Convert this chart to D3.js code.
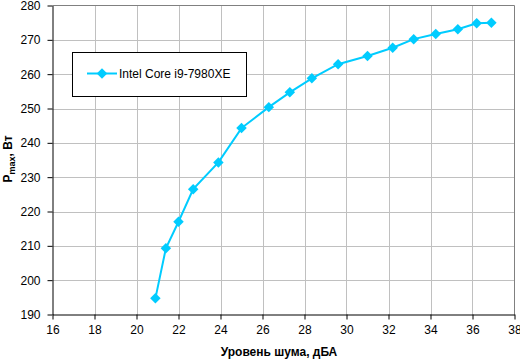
<!DOCTYPE html>
<html>
<head>
<meta charset="utf-8">
<script src="https://cdn.jsdelivr.net/npm/d3@7"></script>
<style>
body { margin: 0; background: #fff; overflow: hidden; }
svg { display: block; }
text { font-family: Arial, "Liberation Sans", sans-serif; }
</style>
</head>
<body>
<svg></svg>
<script>
// chart data
var seriesName = "Intel Core i9-7980XE";
var noise = [20.9, 21.4, 22.0, 22.7, 23.9, 25.0, 26.3, 27.3, 28.35, 29.6, 31.0, 32.2, 33.2, 34.25, 35.3, 36.2, 36.9];
var power = [194.7, 209.3, 217.0, 226.5, 234.3, 244.3, 250.4, 254.7, 258.8, 262.9, 265.3, 267.7, 270.2, 271.7, 273.1, 274.8, 275.0];
var xTicks = [16, 18, 20, 22, 24, 26, 28, 30, 32, 34, 36, 38];
var yTicks = [190, 200, 210, 220, 230, 240, 250, 260, 270, 280];

var svgWidth = 520, svgHeight = 359;
var svg = d3.select('svg')
  .attr('width', svgWidth)
  .attr('height', svgHeight);

var pLeft = 52.5, pRight = 514.5, pTop = 5.5, pBottom = 314.5;
var lineColor = "#00ccff";

var x = d3.scaleLinear().domain([16, 38]).range([pLeft, pRight]);
var y = d3.scaleLinear().domain([190, 280]).range([pBottom, pTop]);

// grid
svg.append("g").selectAll("line")
  .data(xTicks.slice(1, -1))
  .enter().append("line")
  .attr("x1", function (d) { return Math.round(x(d)) + 0.5; })
  .attr("x2", function (d) { return Math.round(x(d)) + 0.5; })
  .attr("y1", pTop).attr("y2", pBottom)
  .attr("stroke", "#c0c0c0").attr("stroke-width", 1);

svg.append("g").selectAll("line")
  .data(yTicks.slice(1, -1))
  .enter().append("line")
  .attr("y1", function (d) { return Math.round(y(d)) + 0.5; })
  .attr("y2", function (d) { return Math.round(y(d)) + 0.5; })
  .attr("x1", pLeft).attr("x2", pRight)
  .attr("stroke", "#c0c0c0").attr("stroke-width", 1);

// frame top/right
svg.append("path")
  .attr("d", "M" + pLeft + "," + pTop + "H" + pRight + "V" + pBottom)
  .attr("fill", "none").attr("stroke", "#808080");

// axes
var xAxis = svg.append("g")
  .attr("transform", "translate(0," + pBottom + ")")
  .call(d3.axisBottom(x).tickValues(xTicks).tickSize(5).tickPadding(6).tickSizeOuter(0));
var yAxis = svg.append("g")
  .attr("transform", "translate(" + pLeft + ",0)")
  .call(d3.axisLeft(y).tickValues(yTicks).tickSize(5).tickPadding(7).tickSizeOuter(0));

[xAxis, yAxis].forEach(function (a) {
  a.select(".domain").attr("stroke", "#000");
  a.selectAll(".tick line").attr("stroke", "#000");
  a.selectAll("text")
    .attr("font-family", "Arial, 'Liberation Sans', sans-serif")
    .attr("font-size", "12px").attr("fill", "#000");
});

// axis titles
svg.append("text")
  .attr("x", 279).attr("y", 356)
  .attr("text-anchor", "middle")
  .attr("font-size", "12px").attr("font-weight", "bold")
  .text("Уровень шума, дБА");

var yt = svg.append("text")
  .attr("transform", "translate(12,159) rotate(-90)")
  .attr("text-anchor", "middle")
  .attr("font-size", "12px").attr("font-weight", "bold");
yt.append("tspan").text("P");
yt.append("tspan").attr("font-size", "9px").attr("dy", 3).text("max");
yt.append("tspan").attr("dy", -3).text(", Вт");

// series line
var pts = noise.map(function (d, i) { return [d, power[i]]; });
svg.append("path")
  .datum(pts)
  .attr("fill", "none")
  .attr("stroke", lineColor)
  .attr("stroke-width", 2)
  .attr("d", d3.line().x(function (d) { return x(d[0]); }).y(function (d) { return y(d[1]); }));

var diamond = d3.symbol().type(d3.symbolDiamond2).size(70);
svg.append("g").selectAll("path")
  .data(pts)
  .enter().append("path")
  .attr("transform", function (d) { return "translate(" + x(d[0]) + "," + y(d[1]) + ")"; })
  .attr("d", diamond)
  .attr("fill", lineColor);

// legend
var lg = svg.append("g");
lg.append("rect")
  .attr("x", 72.5).attr("y", 52.5).attr("width", 174).attr("height", 44)
  .attr("fill", "#fff").attr("stroke", "#000");
lg.append("line")
  .attr("x1", 87).attr("x2", 117).attr("y1", 73.5).attr("y2", 73.5)
  .attr("stroke", lineColor).attr("stroke-width", 2);
lg.append("path")
  .attr("transform", "translate(102,73.5)")
  .attr("d", diamond).attr("fill", lineColor);
lg.append("text")
  .attr("x", 119).attr("y", 78)
  .attr("font-size", "12px")
  .text(seriesName);
</script>
</body>
</html>
